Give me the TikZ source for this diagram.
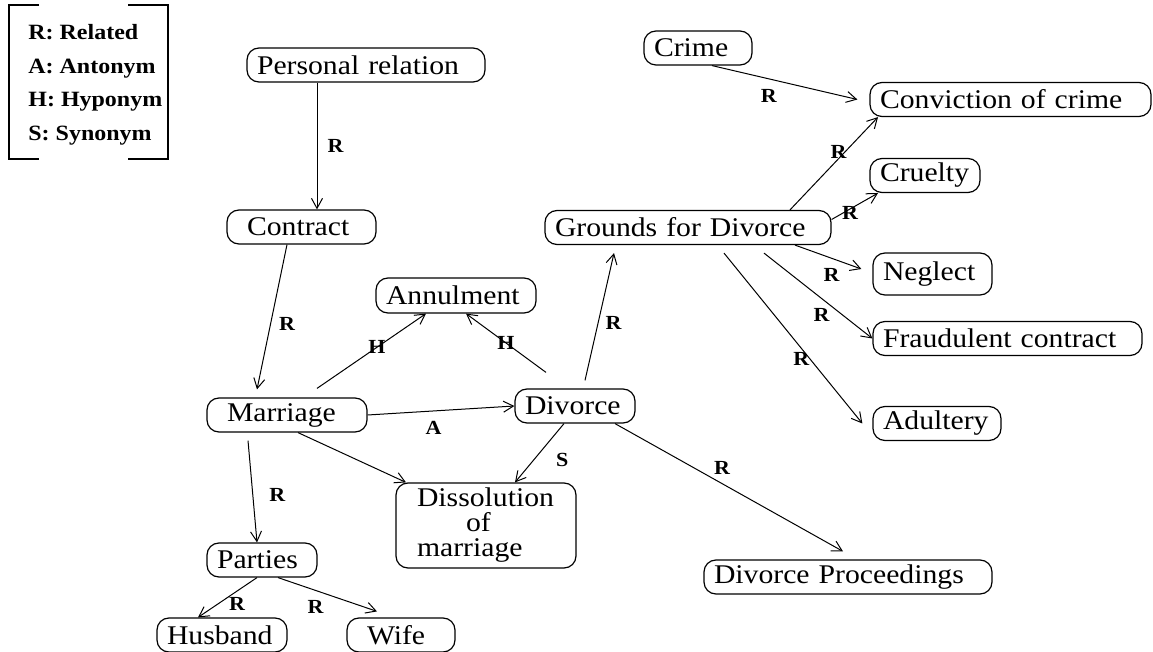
\documentclass[tikz,border=0pt]{standalone}
\usepackage{fontspec}
\setmainfont{Liberation Serif}[FakeStretch=1.1]
\usetikzlibrary{arrows.meta}

\newcommand{\conceptfont}{\fontsize{13.5}{12.5}\selectfont}
\newcommand{\relfont}{\fontsize{10}{11}\selectfont\bfseries}

\tikzset{
  concept/.style={draw, line width=0.6pt, rounded corners=6pt, inner xsep=5pt, inner ysep=0pt,
    minimum height=17pt, align=left, font=\conceptfont},
  rel/.style={line width=0.5pt, -{Straight Barb[length=5pt,width=5.5pt]}},
  lbl/.style={inner sep=0pt, font=\relfont},
  legendtext/.style={inner sep=0pt, anchor=base west, font=\fontsize{10.9}{12}\selectfont\bfseries},
}

\begin{document}
\begin{tikzpicture}[x=0.5pt, y=-0.5pt]
    \useasboundingbox (0,0) rectangle (1153,652);

    % legend
    \draw[line width=0.6pt] (39,5) -- (9,5) -- (9,159) -- (39,159);
    \draw[line width=0.6pt] (128,5) -- (168,5) -- (168,159) -- (128,159);
    \node[legendtext] (legR) at (28,40) {R: Related};
    \node[legendtext] (legA) at (28,73.5) {A: Antonym};
    \node[legendtext] (legH) at (28,107) {H: Hyponym};
    \node[legendtext] (legS) at (28,140.5) {S: Synonym};

    % concepts
    \node[concept, text width=109pt] (prel) at (366,65) {Personal relation};
    \node[concept, text width=64.5pt] (contract) at (301.5,227) {\hspace*{5pt}Contract};
    \node[concept, text width=70pt, minimum height=17.5pt] (annul) at (456,295.5) {Annulment};
    \node[concept, text width=70pt] (marriage) at (287,415) {\hspace*{5pt}Marriage};
    \node[concept, text width=50pt] (divorce) at (575,406) {Divorce};
    \node[concept, text width=80pt, minimum height=42.5pt] (dissol) at (486,525.5)
        {\hspace*{5.5pt}Dissolution\\\hspace*{30pt}of\\\hspace*{5.5pt}marriage};
    \node[concept, text width=45pt] (parties) at (262,560) {Parties};
    \node[concept, text width=55pt] (husband) at (222,635) {Husband};
    \node[concept, text width=44pt] (wife) at (401,635) {\hspace*{5pt}Wife};
    \node[concept, text width=134pt] (proceed) at (848,577) {Divorce Proceedings};
    \node[concept, text width=133pt] (grounds) at (688,227.5) {Grounds for Divorce};
    \node[concept, text width=44pt] (crime) at (698,48) {Crime};
    \node[concept, text width=130.5pt] (conviction) at (1010.5,99.5) {Conviction of crime};
    \node[concept, text width=45pt] (cruelty) at (925,175.5) {Cruelty};
    \node[concept, text width=49.5pt, minimum height=21pt] (neglect) at (932.5,274) {Neglect};
    \node[concept, text width=124.5pt] (fraud) at (1007.5,338.5) {Fraudulent contract};
    \node[concept, text width=54pt] (adultery) at (937,423.5) {Adultery};

    % relations
    \draw[rel] ([xshift=-24.5pt]prel.south) -- ([xshift=7.75pt]contract.north) node[lbl, midway, right=5pt] {R};
    \draw[rel] ([xshift=-7.25pt]contract.south) -- ([xshift=-15pt,yshift=4pt]marriage.north) node[lbl, pos=0.55, right=4pt] {R};
    \draw[rel] ([xshift=15pt,yshift=4.5pt]marriage.north) -- ([xshift=-15pt]annul.south) node[lbl, pos=0.55] {H};
    \draw[rel] ([xshift=-14.5pt,yshift=8pt]divorce.north) -- ([xshift=5pt]annul.south) node[lbl, pos=0.5] {H};
    \draw[rel] ([xshift=5pt,yshift=4pt]divorce.north) -- ([xshift=-37pt,yshift=-4pt]grounds.south) node[lbl, pos=0.45, right=3.5pt] {R};
    \draw[rel] (marriage.east) -- (divorce.west) node[lbl, pos=0.45, below=5pt] {A};
    \draw[rel] ([xshift=5.5pt]marriage.south) -- ([xshift=-40pt]dissol.north);
    \draw[rel] ([xshift=-5.5pt]divorce.south) -- ([xshift=14.5pt]dissol.north) node[lbl, pos=0.62, right=11pt] {S};
    \draw[rel] ([xshift=20pt]divorce.south) -- ([xshift=-2.5pt,yshift=4pt]proceed.north) node[lbl, pos=0.47, above=4.5pt] {R};
    \draw[rel] ([xshift=-19.5pt,yshift=-4pt]marriage.south) -- ([xshift=-2.5pt]parties.north) node[lbl, pos=0.53, right=8pt] {R};
    \draw[rel] ([xshift=-2.5pt]parties.south) -- ([xshift=-12pt]husband.north) node[lbl, pos=0.65, right=5pt] {R};
    \draw[rel] ([xshift=8pt]parties.south) -- ([xshift=-12pt,yshift=3pt]wife.north) node[lbl, pos=0.38, below=4.5pt] {R};

    \draw[rel] ([xshift=7pt]crime.south) -- ([xshift=-6pt]conviction.west) node[lbl, pos=0.39, below=4.8pt] {R};
    \draw[rel] ([xshift=51pt]grounds.north) -- ([xshift=-66.25pt]conviction.south) node[lbl, pos=0.62, xshift=-3pt] {R};
    \draw[rel] ([yshift=4pt]grounds.east) -- ([xshift=-23.5pt]cruelty.south) node[lbl, pos=0.4, yshift=-2pt] {R};
    \draw[rel] ([xshift=53.5pt]grounds.south) -- ([xshift=-5.5pt,yshift=2.5pt]neglect.west) node[lbl, pos=0.55, below=4.6pt] {R};
    \draw[rel] ([xshift=38pt,yshift=-4pt]grounds.south) -- (fraud.west) node[lbl, pos=0.73, left=6.5pt] {R};
    \draw[rel] ([xshift=18pt,yshift=-4pt]grounds.south) -- ([xshift=-5pt]adultery.west) node[lbl, pos=0.62, left=0pt] {R};
\end{tikzpicture}
\end{document}
